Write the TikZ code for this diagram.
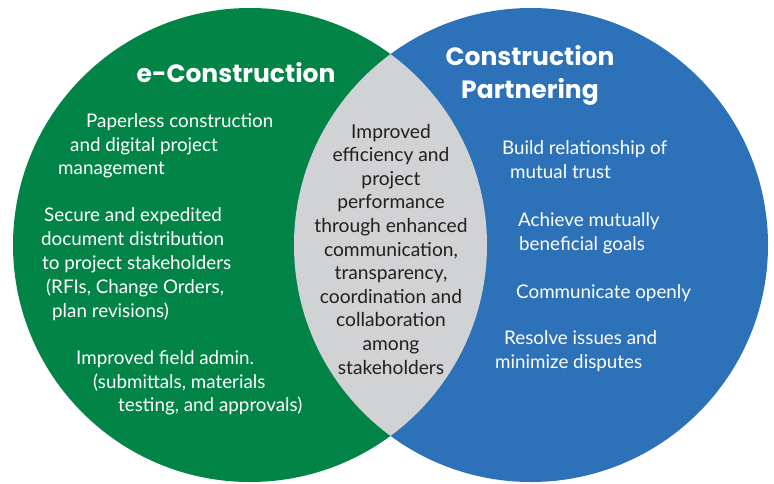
\documentclass[tikz,border=0pt]{standalone}
\usepackage{fontspec}
\setmainfont{Lato}
\newfontfamily\titlefont{Poppins}
\definecolor{vgreen}{RGB}{3,132,71}
\definecolor{vblue}{RGB}{45,113,184}
\definecolor{vgray}{RGB}{209,210,212}
\definecolor{vdark}{RGB}{35,31,32}
\begin{document}
\begin{tikzpicture}[x=1pt,y=-1pt,
  body/.style={inner sep=0pt,text=white,font=\fontsize{18.8}{20}\selectfont,anchor=base west},
  lens/.style={inner sep=0pt,text=vdark,font=\fontsize{19.2}{20}\selectfont,anchor=base},
  ttl/.style={inner sep=0pt,text=white,font=\titlefont\bfseries\fontsize{25}{30}\selectfont,anchor=base}]
\useasboundingbox (0,0) rectangle (774,483);
\fill[vgreen] (250,245) circle (237);
\fill[vblue] (531,245) circle (237);
\begin{scope}
  \clip (250,245) circle (237);
  \fill[vgray] (531,245) circle (237);
\end{scope}
% titles
\node[ttl] (t1) at (236,82) {e-Construction};
\node[ttl] (t2) at (530,65) {Construction};
\node[ttl] (t3) at (530,98) {Partnering};
% green items
\node[body] (g1) at (86,127) {Paperless construction};
\node[body] (g2) at (70,151) {and digital project};
\node[body] (g3) at (58,174) {management};
\node[body] (g4) at (44,221) {Secure and expedited};
\node[body] (g5) at (41,245) {document distribution};
\node[body] (g6) at (42,269) {to project stakeholders};
\node[body] (g7) at (46,293) {(RFIs, Change Orders,};
\node[body] (g8) at (52,317) {plan revisions)};
\node[body] (g9) at (76,364) {Improved field admin.};
\node[body] (g10) at (93,388) {(submittals, materials};
\node[body] (g11) at (118,411) {testing, and approvals)};
% lens items
\foreach \t [count=\i] in {Improved,efficiency and,project,performance,through enhanced,{communication,},{transparency,},coordination and,collaboration,among,stakeholders}
  \node[lens] (c\i) at (391,{138+23.6*(\i-1)}) {\t};
% blue items
\node[body] (b1) at (502,154) {Build relationship of};
\node[body] (b2) at (510,178) {mutual trust};
\node[body] (b3) at (518,226) {Achieve mutually};
\node[body] (b4) at (519,250) {beneficial goals};
\node[body] (b5) at (516,298) {Communicate openly};
\node[body] (b6) at (504,344) {Resolve issues and};
\node[body] (b7) at (495,368) {minimize disputes};
\end{tikzpicture}
\end{document}
